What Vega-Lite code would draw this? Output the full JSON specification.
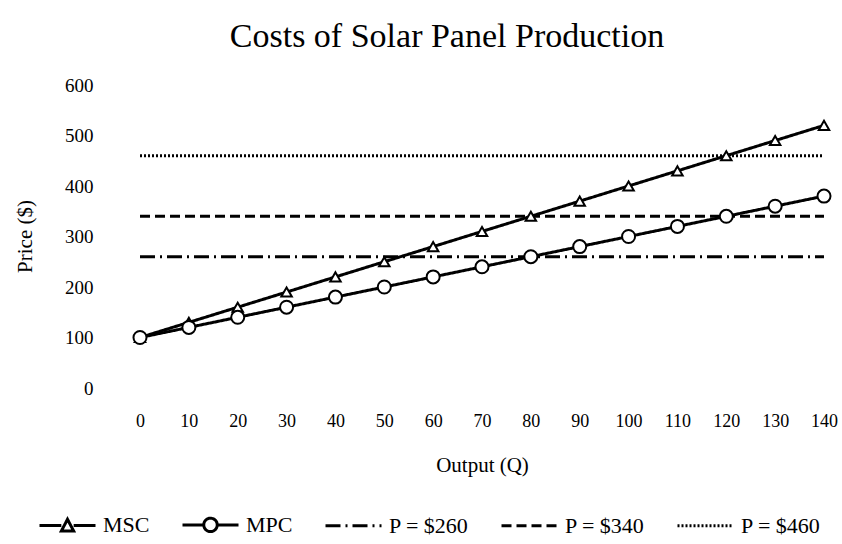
{
  "$schema": "https://vega.github.io/schema/vega-lite/v6.json",
  "width": 684,
  "height": 303,
  "autosize": {"type": "none"},
  "padding": {"left": 140, "top": 85, "right": 18, "bottom": 156},
  "background": "white",
  "config": {"font": "Liberation Serif", "view": {"stroke": null}},
  "title": {"text": "Costs of Solar Panel Production", "fontSize": 34, "fontWeight": "normal", "font": "Liberation Serif", "color": "black", "anchor": "middle", "dx": -35, "offset": 22},
  "data": {"values": [
    {"series": "P = $260", "q": 0, "price": 260}, {"series": "P = $260", "q": 140, "price": 260},
    {"series": "P = $340", "q": 0, "price": 340}, {"series": "P = $340", "q": 140, "price": 340},
    {"series": "P = $460", "q": 0, "price": 460}, {"series": "P = $460", "q": 140, "price": 460},
    {"series": "MSC", "q": 0, "price": 100}, {"series": "MSC", "q": 10, "price": 130}, {"series": "MSC", "q": 20, "price": 160},
    {"series": "MSC", "q": 30, "price": 190}, {"series": "MSC", "q": 40, "price": 220}, {"series": "MSC", "q": 50, "price": 250},
    {"series": "MSC", "q": 60, "price": 280}, {"series": "MSC", "q": 70, "price": 310}, {"series": "MSC", "q": 80, "price": 340},
    {"series": "MSC", "q": 90, "price": 370}, {"series": "MSC", "q": 100, "price": 400}, {"series": "MSC", "q": 110, "price": 430},
    {"series": "MSC", "q": 120, "price": 460}, {"series": "MSC", "q": 130, "price": 490}, {"series": "MSC", "q": 140, "price": 520},
    {"series": "MPC", "q": 0, "price": 100}, {"series": "MPC", "q": 10, "price": 120}, {"series": "MPC", "q": 20, "price": 140},
    {"series": "MPC", "q": 30, "price": 160}, {"series": "MPC", "q": 40, "price": 180}, {"series": "MPC", "q": 50, "price": 200},
    {"series": "MPC", "q": 60, "price": 220}, {"series": "MPC", "q": 70, "price": 240}, {"series": "MPC", "q": 80, "price": 260},
    {"series": "MPC", "q": 90, "price": 280}, {"series": "MPC", "q": 100, "price": 300}, {"series": "MPC", "q": 110, "price": 320},
    {"series": "MPC", "q": 120, "price": 340}, {"series": "MPC", "q": 130, "price": 360}, {"series": "MPC", "q": 140, "price": 380}
  ]},
  "encoding": {
    "x": {"field": "q", "type": "quantitative",
      "scale": {"domain": [0, 140], "nice": false, "zero": false},
      "axis": {"values": [0, 10, 20, 30, 40, 50, 60, 70, 80, 90, 100, 110, 120, 130, 140],
        "grid": false, "domain": false, "ticks": false, "labelFlush": false, "labelOverlap": false,
        "labelPadding": 24, "labelFontSize": 18, "labelColor": "black", "labelFont": "Liberation Serif",
        "title": "Output (Q)", "titleFontSize": 21, "titleFontWeight": "normal", "titleColor": "black", "titleFont": "Liberation Serif",
        "titleY": 77, "titleBaseline": "middle"}},
    "y": {"field": "price", "type": "quantitative",
      "scale": {"domain": [0, 600], "nice": false},
      "axis": {"values": [0, 100, 200, 300, 400, 500, 600],
        "grid": false, "domain": false, "ticks": false, "labelOverlap": false,
        "labelPadding": 47, "labelFontSize": 19, "labelColor": "black", "labelFont": "Liberation Serif",
        "title": "Price ($)", "titleFontSize": 21, "titleFontWeight": "normal", "titleColor": "black", "titleFont": "Liberation Serif",
        "titleX": -115, "titleY": 151, "titleAlign": "center", "titleBaseline": "middle"}}
  },
  "layer": [
    {
      "mark": {"type": "line", "color": "black"},
      "encoding": {
        "strokeDash": {"field": "series", "type": "nominal",
          "scale": {"domain": ["MSC", "MPC", "P = $260", "P = $340", "P = $460"],
                    "range": [[1, 0], [1, 0], [15, 5, 2, 5], [10, 5], [2, 2]]},
          "legend": {"orient": "none", "legendX": -102, "legendY": 410, "direction": "horizontal", "title": null,
            "symbolType": "stroke", "symbolSize": 3136, "symbolStrokeColor": "black",
            "labelFont": "Liberation Serif", "labelFontSize": 22, "labelColor": "black", "labelOffset": 6, "columnPadding": 26,
            "encode": {"symbols": {"update": {
              "shape": {"signal": "datum.value === 'MSC' ? 'M-1,0H-0.22M0.22,0H1M-0.22,0.2L0,-0.22L0.22,0.2Z' : (datum.value === 'MPC' ? 'M-1,0H-0.24M0.24,0H1M0.24,0A0.24,0.24 0 1,1 -0.24,0A0.24,0.24 0 1,1 0.24,0Z' : 'stroke')"},
              "fill": {"value": "white"},
              "stroke": {"value": "black"}
            }}}}},
        "strokeWidth": {"field": "series", "type": "ordinal",
          "scale": {"domain": ["MSC", "MPC", "P = $260", "P = $340", "P = $460"], "range": [3, 3, 1.6, 1.8, 1.6]},
          "legend": {"orient": "none", "legendX": -102, "legendY": 410, "direction": "horizontal", "title": null,
            "symbolType": "stroke", "symbolSize": 3136, "symbolStrokeColor": "black",
            "labelFont": "Liberation Serif", "labelFontSize": 22, "labelColor": "black", "labelOffset": 6, "columnPadding": 26,
            "encode": {"symbols": {"update": {
              "shape": {"signal": "datum.value === 'MSC' ? 'M-1,0H-0.22M0.22,0H1M-0.22,0.2L0,-0.22L0.22,0.2Z' : (datum.value === 'MPC' ? 'M-1,0H-0.24M0.24,0H1M0.24,0A0.24,0.24 0 1,1 -0.24,0A0.24,0.24 0 1,1 0.24,0Z' : 'stroke')"},
              "fill": {"value": "white"},
              "stroke": {"value": "black"}
            }}}}}
      }
    },
    {
      "transform": [{"filter": "datum.series === 'MSC' || datum.series === 'MPC'"}],
      "mark": {"type": "point", "filled": true, "fill": "white", "stroke": "black", "strokeWidth": 2, "opacity": 1},
      "encoding": {
        "shape": {"field": "series", "type": "nominal", "scale": {"domain": ["MSC", "MPC"], "range": ["triangle-up", "circle"]}, "legend": null},
        "size": {"field": "series", "type": "ordinal", "scale": {"domain": ["MSC", "MPC"], "range": [110, 170]}, "legend": null}
      }
    }
  ]
}
